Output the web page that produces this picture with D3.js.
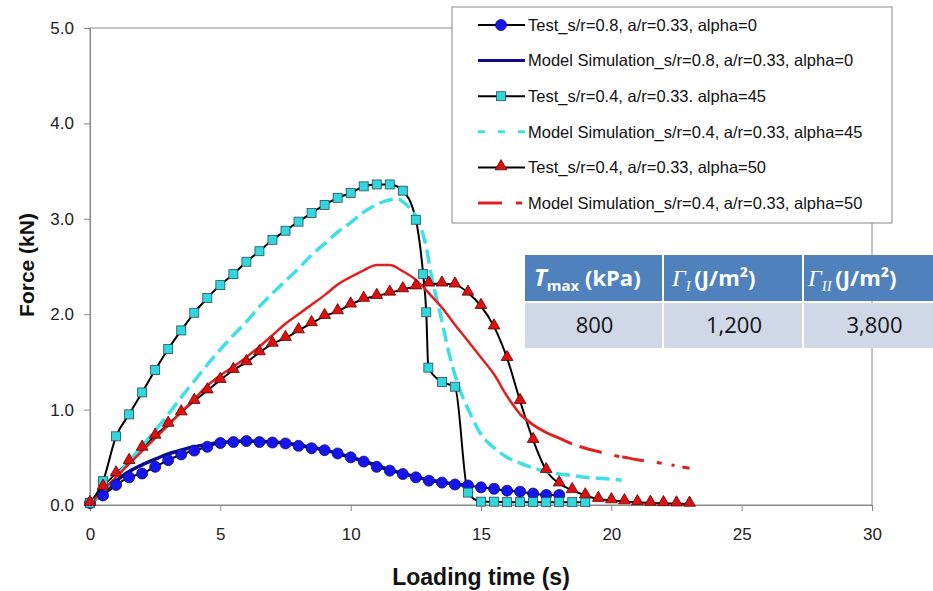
<!DOCTYPE html>
<html>
<head>
<meta charset="utf-8">
<script src="https://cdn.jsdelivr.net/npm/d3@7"></script>
<style>
  body { margin: 0; background: #fff; }
  text { font-family: "Liberation Sans", Arial, sans-serif; }
</style>
</head>
<body>
<div id="chart"></div>
<script>
// axis ticks
var xTicks = [0, 5, 10, 15, 20, 25, 30],
    yTicks = [0, 1, 2, 3, 4, 5];

// Test_s/r=0.8, a/r=0.33, alpha=0  [time (s), force (kN)]
var testAlpha0 = [[0,0.02],[0.5,0.10],[1,0.21],[1.5,0.29],[2,0.33],[2.5,0.40],[3,0.47],[3.5,0.53],[4,0.57],[4.5,0.61],
    [5,0.65],[5.5,0.66],[6,0.67],[6.5,0.66],[7,0.655],[7.5,0.645],[8,0.62],[8.5,0.595],[9,0.575],[9.5,0.54],
    [10,0.50],[10.5,0.455],[11,0.40],[11.5,0.36],[12,0.325],[12.5,0.29],[13,0.255],[13.5,0.235],[14,0.215],
    [14.5,0.205],[15,0.185],[15.5,0.17],[16,0.15],[16.5,0.14],[17,0.12],[17.5,0.105],[18,0.105]];

// Model Simulation_s/r=0.8, a/r=0.33, alpha=0
var simAlpha0 = [[0,0],[0.25,0.07],[0.5,0.13],[1,0.25],[1.5,0.35],[2,0.42],[2.5,0.48],[3,0.535],[3.5,0.575],
    [4,0.61],[4.5,0.635],[5,0.655],[5.5,0.665],[6,0.67],[6.5,0.668],[7,0.66],[7.5,0.648],[8,0.63],[8.5,0.605],
    [9,0.575],[9.5,0.54],[10,0.50],[10.5,0.46],[11,0.415],[11.5,0.37],[12,0.33],[12.5,0.295],[13,0.265],
    [13.5,0.24],[14,0.22],[14.5,0.205]];

// Test_s/r=0.4, a/r=0.33. alpha=45
var testAlpha45 = [[0,0.02],[0.5,0.25],[1,0.72],[1.5,0.95],[2,1.18],[2.5,1.415],[3,1.635],[3.5,1.83],[4,2.015],
    [4.5,2.17],[5,2.305],[5.5,2.42],[6,2.55],[6.5,2.66],[7,2.78],[7.5,2.875],[8,2.97],[8.5,3.06],[9,3.145],
    [9.5,3.22],[10,3.27],[10.5,3.34],[11,3.36],[11.5,3.36],[12,3.295],[12.5,2.99],[12.78,2.42],[12.9,2.02],
    [12.98,1.44],[13.5,1.29],[14,1.24],[14.5,0.13],[15,0.035],[15.5,0.035],[16,0.03],[16.5,0.03],[17,0.03],
    [17.5,0.03],[18,0.03],[18.5,0.03],[19,0.03]];

// Model Simulation_s/r=0.4, a/r=0.33, alpha=45
var simAlpha45 = [[0,0],[0.5,0.14],[1,0.3],[1.5,0.46],[2,0.62],[2.5,0.78],[3,0.95],[3.5,1.13],[4,1.3],[4.5,1.47],
    [5,1.63],[5.5,1.78],[6,1.92],[6.5,2.08],[7,2.22],[7.5,2.35],[8,2.48],[8.5,2.62],[9,2.74],[9.5,2.86],
    [10,2.96],[10.5,3.07],[11,3.15],[11.5,3.2],[11.8,3.21],[12,3.18],[12.3,3.1],[12.6,2.98],[12.9,2.7],
    [13.1,2.4],[13.4,2.05],[13.8,1.56],[14.2,1.2],[14.6,0.95],[15,0.74],[15.5,0.6],[16,0.5],[16.5,0.44],
    [17,0.39],[17.5,0.35],[18,0.325],[18.5,0.31],[19,0.29],[19.5,0.28],[20,0.27],[20.4,0.26]];

// Test_s/r=0.4, a/r=0.33, alpha=50
var testAlpha50 = [[0,0.02],[0.5,0.19],[1,0.33],[1.5,0.46],[2,0.6],[2.5,0.725],[3,0.85],[3.5,0.97],[4,1.09],
    [4.5,1.2],[5,1.31],[5.5,1.415],[6,1.495],[6.5,1.6],[7,1.69],[7.5,1.75],[8,1.83],[8.5,1.905],[9,1.98],
    [9.5,2.03],[10,2.1],[10.5,2.16],[11,2.19],[11.5,2.225],[12,2.26],[12.5,2.29],[13,2.32],[13.5,2.32],
    [14,2.31],[14.5,2.225],[15,2.085],[15.5,1.87],[16,1.54],[16.5,1.09],[17,0.68],[17.5,0.365],[18,0.225],
    [18.5,0.155],[19,0.1],[19.5,0.063],[20,0.048],[20.5,0.038],[21,0.028],[21.5,0.022],[22,0.018],
    [22.5,0.015],[23,0.012]];

// Model Simulation_s/r=0.4, a/r=0.33, alpha=50
var simAlpha50 = [[0,0],[0.5,0.155],[1,0.29],[1.5,0.43],[2,0.565],[2.5,0.7],[3,0.835],[3.5,0.975],[4,1.11],
    [4.5,1.25],[5,1.36],[5.5,1.45],[6,1.55],[6.5,1.66],[7,1.78],[7.5,1.9],[8,2.0],[8.5,2.1],[9,2.2],
    [9.5,2.31],[10,2.39],[10.5,2.46],[11,2.515],[11.5,2.515],[12,2.45],[12.5,2.36],[13,2.22],[13.5,2.07],
    [14,1.89],[14.5,1.72],[15,1.545],[15.5,1.37],[16,1.14],[16.5,0.95],[17,0.84],[17.5,0.76],[18,0.7],
    [18.5,0.64],[19,0.595],[19.5,0.56],[20,0.525],[20.5,0.5],[21,0.475],[21.5,0.455],[22,0.435],
    [22.5,0.41],[23,0.385]];

// legend labels
var legendLabels = ["Test_s/r=0.8, a/r=0.33, alpha=0",
    "Model Simulation_s/r=0.8, a/r=0.33, alpha=0",
    "Test_s/r=0.4, a/r=0.33. alpha=45",
    "Model Simulation_s/r=0.4, a/r=0.33, alpha=45",
    "Test_s/r=0.4, a/r=0.33, alpha=50",
    "Model Simulation_s/r=0.4, a/r=0.33, alpha=50"];

// inset table values
var tableValues = ["800", "1,200", "3,800"];

(function () {
    "use strict";

    var width = 933, height = 591,
        plotLeft = 90, plotRight = 872, plotTop = 28, plotBottom = 505,
        frameColor = "#888";

    var svg = d3.select("#chart").append("svg")
        .attr("width", width)
        .attr("height", height);

    svg.append("rect").attr("width", width).attr("height", height).attr("fill", "#fff");

    var x = d3.scaleLinear().domain([0, 30]).range([plotLeft, plotRight]),
        y = d3.scaleLinear().domain([0, 5]).range([plotBottom, plotTop]);

    // plot frame
    svg.append("rect")
        .attr("x", plotLeft).attr("y", plotTop)
        .attr("width", plotRight - plotLeft).attr("height", plotBottom - plotTop)
        .attr("fill", "none").attr("stroke", frameColor);

    // axes
    var yAxis = svg.append("g")
        .attr("transform", "translate(" + plotLeft + ",0)")
        .call(d3.axisLeft(y).tickValues(yTicks).tickFormat(d3.format(".1f")).tickSize(6).tickPadding(10));
    var xAxis = svg.append("g")
        .attr("transform", "translate(0," + plotBottom + ")")
        .call(d3.axisBottom(x).tickValues(xTicks).tickSize(6).tickPadding(17));
    [xAxis, yAxis].forEach(function (g) {
        g.select(".domain").attr("stroke", frameColor);
        g.selectAll(".tick line").attr("stroke", frameColor);
        g.selectAll(".tick text")
            .attr("fill", "#222")
            .style("font-size", "17px")
            .style("font-family", "'Liberation Sans', Arial, sans-serif");
    });

    // axis titles
    svg.append("text")
        .attr("x", (plotLeft + plotRight) / 2).attr("y", 585)
        .attr("text-anchor", "middle")
        .style("font-size", "23px").style("font-weight", "bold")
        .attr("fill", "#111")
        .text("Loading time (s)");
    svg.append("text")
        .attr("transform", "translate(34,265) rotate(-90)")
        .attr("text-anchor", "middle")
        .style("font-size", "21px").style("font-weight", "bold")
        .attr("fill", "#111")
        .text("Force (kN)");

    var line = d3.line()
        .x(function (d) { return x(d[0]); })
        .y(function (d) { return y(d[1]); })
        .curve(d3.curveMonotoneX);

    var plot = svg.append("g");

    // test lines (black)
    [testAlpha0, testAlpha45, testAlpha50].forEach(function (data) {
        plot.append("path")
            .datum(data)
            .attr("d", line)
            .attr("fill", "none")
            .attr("stroke", "#000")
            .attr("stroke-width", 2);
    });

    // model simulation lines
    plot.append("path")
        .datum(simAlpha0)
        .attr("d", line)
        .attr("fill", "none")
        .attr("stroke", "#0a0a8a")
        .attr("stroke-width", 3.5);

    plot.append("path")
        .datum(simAlpha45)
        .attr("d", line)
        .attr("fill", "none")
        .attr("stroke", "#3ee0e6")
        .attr("stroke-width", 3.5)
        .attr("stroke-dasharray", "14,6");

    // red simulation: solid at first, broken in the tail
    plot.append("path")
        .datum(simAlpha50.filter(function (d) { return d[0] <= 16.5; }))
        .attr("d", line)
        .attr("fill", "none")
        .attr("stroke", "#e02020")
        .attr("stroke-width", 2.5);
    plot.append("path")
        .datum(simAlpha50.filter(function (d) { return d[0] >= 16.5; }))
        .attr("d", line)
        .attr("fill", "none")
        .attr("stroke", "#e02020")
        .attr("stroke-width", 3)
        .attr("stroke-dasharray", "60,8,23,13,5,3,22,13,5,10,3,8");

    // markers
    var triangle = d3.symbol().type(d3.symbolTriangle).size(60);

    function drawCircles(g, data) {
        g.selectAll(null).data(data).enter().append("circle")
            .attr("cx", function (d) { return x(d[0]); })
            .attr("cy", function (d) { return y(d[1]); })
            .attr("r", 5.5)
            .attr("fill", "#1414f0")
            .attr("stroke", "#101060")
            .attr("stroke-width", 0.8);
    }
    function drawSquares(g, data) {
        g.selectAll(null).data(data).enter().append("rect")
            .attr("x", function (d) { return x(d[0]) - 4.5; })
            .attr("y", function (d) { return y(d[1]) - 4.5; })
            .attr("width", 9).attr("height", 9)
            .attr("fill", "#33d6dc")
            .attr("stroke", "#205060")
            .attr("stroke-width", 0.8);
    }
    function drawTriangles(g, data) {
        g.selectAll(null).data(data).enter().append("path")
            .attr("transform", function (d) { return "translate(" + x(d[0]) + "," + (y(d[1]) - 1) + ")"; })
            .attr("d", triangle)
            .attr("fill", "#dd1010")
            .attr("stroke", "#600000")
            .attr("stroke-width", 0.8);
    }

    drawCircles(plot, testAlpha0);
    drawSquares(plot, testAlpha45);
    drawTriangles(plot, testAlpha50);

    // legend
    var legend = svg.append("g");
    legend.append("rect")
        .attr("x", 452).attr("y", 7)
        .attr("width", 440).attr("height", 216)
        .attr("fill", "#fff").attr("stroke", frameColor);

    var rowY = function (i) { return 25 + i * 35.6; },
        lx0 = 478, lx1 = 525, lmid = 501;

    legendLabels.forEach(function (label, i) {
        legend.append("text")
            .attr("x", 528).attr("y", rowY(i))
            .attr("dy", "0.35em")
            .style("font-size", "16.5px")
            .attr("fill", "#111")
            .text(label);
    });

    var sample = function (i, color, w, dash) {
        legend.append("line")
            .attr("x1", lx0).attr("x2", lx1)
            .attr("y1", rowY(i)).attr("y2", rowY(i))
            .attr("stroke", color).attr("stroke-width", w)
            .attr("stroke-dasharray", dash || null);
    };
    sample(0, "#000", 2);
    sample(1, "#0a0a8a", 3);
    sample(2, "#000", 2);
    sample(3, "#3ee0e6", 3, "7,13");
    sample(4, "#000", 2);
    sample(5, "#e02020", 3, "24,14,6,20");

    drawCircles(legend, [[x.invert(lmid), y.invert(rowY(0))]]);
    drawSquares(legend, [[x.invert(lmid), y.invert(rowY(2))]]);
    drawTriangles(legend, [[x.invert(lmid), y.invert(rowY(4))]]);

    // inset table
    var table = svg.append("g"),
        colX = [525, 664, 804, 945],
        headTop = 255, headBottom = 302, rowBottom = 348;

    for (var c = 0; c < 3; c++) {
        table.append("rect")
            .attr("x", colX[c]).attr("y", headTop)
            .attr("width", colX[c + 1] - colX[c] - 2).attr("height", headBottom - headTop - 1)
            .attr("fill", "#4f81bd");
        table.append("rect")
            .attr("x", colX[c]).attr("y", headBottom + 1)
            .attr("width", colX[c + 1] - colX[c] - 2).attr("height", rowBottom - headBottom - 1)
            .attr("fill", "#d0d8e8");
        table.append("text")
            .attr("x", (colX[c] + colX[c + 1]) / 2).attr("y", 333)
            .attr("text-anchor", "middle")
            .style("font-family", "'Open Sans', Lato, sans-serif")
            .style("font-size", "22px")
            .attr("fill", "#111")
            .text(tableValues[c]);
    }

    var headFont = "'Open Sans', Lato, sans-serif",
        serifFont = "'Liberation Serif', 'DejaVu Serif', serif";

    var h1 = table.append("text")
        .attr("x", colX[0] + 9).attr("y", 286)
        .attr("fill", "#fff")
        .style("font-family", headFont).style("font-weight", "bold").style("font-size", "22px");
    h1.append("tspan").style("font-style", "italic").style("font-size", "24px").text("T");
    h1.append("tspan").attr("dy", 5).style("font-size", "15px").text("max");
    h1.append("tspan").attr("dy", -5).text(" (kPa)");

    [["I", colX[1] + 8], ["II", colX[2] + 4]].forEach(function (h) {
        var t = table.append("text")
            .attr("x", h[1]).attr("y", 286)
            .attr("fill", "#fff")
            .style("font-family", headFont).style("font-weight", "bold").style("font-size", "22px");
        t.append("tspan").style("font-family", serifFont).style("font-style", "italic")
            .style("font-weight", "normal").style("font-size", "24px").text("\u0393");
        t.append("tspan").attr("dy", 5).style("font-family", serifFont).style("font-style", "italic")
            .style("font-weight", "normal").style("font-size", "15px").text(h[0]);
        t.append("tspan").attr("dy", -5).text("\u2009(J/m\u00b2)");
    });
})();
</script>
</body>
</html>
